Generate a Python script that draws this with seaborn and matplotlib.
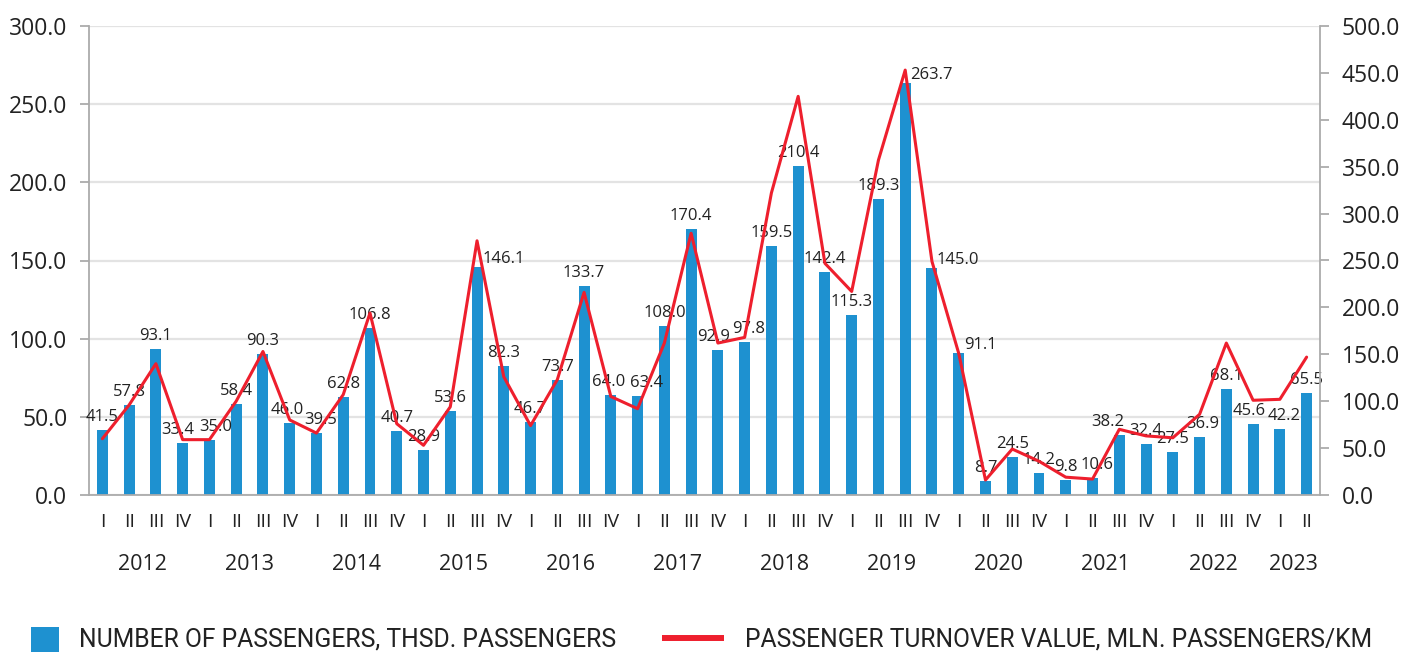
import matplotlib
matplotlib.use("Agg")
import matplotlib.pyplot as plt
from matplotlib.patches import Rectangle
from matplotlib.lines import Line2D
import seaborn as sns
import pandas as pd
import numpy as np

# ---------------- data ----------------
years = ["2012", "2013", "2014", "2015", "2016", "2017", "2018", "2019",
         "2020", "2021", "2022", "2023"]
quarters_per_year = [4, 4, 4, 4, 4, 4, 4, 4, 4, 4, 4, 2]
quarter_names = ["I", "II", "III", "IV"]

passengers = [41.5, 57.8, 93.1, 33.4,
              35.0, 58.4, 90.3, 46.0,
              39.5, 62.8, 106.8, 40.7,
              28.9, 53.6, 146.1, 82.3,
              46.7, 73.7, 133.7, 64.0,
              63.4, 108.0, 170.4, 92.9,
              97.8, 159.5, 210.4, 142.4,
              115.3, 189.3, 263.7, 145.0,
              91.1, 8.7, 24.5, 14.2,
              9.8, 10.6, 38.2, 32.4,
              27.5, 36.9, 68.1, 45.6,
              42.2, 65.5]

turnover = [60, 96, 140, 59,
            59, 100, 153, 80,
            66, 107, 194, 76,
            53, 94, 271, 126,
            74, 123, 216, 105,
            92, 162, 279, 162,
            168, 322, 425, 247,
            217, 357, 453, 249,
            151, 16, 49, 36,
            19, 17, 70, 63,
            61, 86, 162, 101,
            102, 147]

legend_labels = ["NUMBER OF PASSENGERS, THSD. PASSENGERS",
                 "PASSENGER TURNOVER VALUE, MLN. PASSENGERS/KM"]

# ---------------- styling ----------------
W, H = 1420, 652
BLUE = "#1E91D0"
RED = "#EE1F2D"
GRAY = "#ABABAB"
GRID = "#E3E3E3"
TXT = "#222222"
right_shift_labels = {14, 30, 31, 32}
label_nudge_px = {3: -5, 4: 6, 7: -2, 8: 4, 19: -2, 20: 9, 23: -4, 24: 4,
                  37: 4, 38: -12, 41: 3, 43: -4, 44: 4}

sns.set_theme(style="white")
plt.rcParams["font.family"] = ["Open Sans", "DejaVu Sans"]

qlabels = []
for y, n in zip(years, quarters_per_year):
    qlabels += quarter_names[:n]
keys = [f"{y}-{q}" for y, n in zip(years, quarters_per_year) for q in quarter_names[:n]]
df = pd.DataFrame({"key": keys, "passengers": passengers, "turnover": turnover})
n = len(df)

fig = plt.figure(figsize=(W / 100, H / 100), dpi=100)
ax = fig.add_axes([89 / W, 1 - 495 / H, (1320 - 89) / W, (495 - 26) / H])

sns.barplot(data=df, x="key", y="passengers", order=keys, color=BLUE,
            width=0.41, saturation=1, ax=ax, zorder=2)
for p in ax.patches:
    p.set_edgecolor("none")

ax.set_ylim(0, 300)
ax.set_xlim(-0.5, n - 0.5)
ax.set_yticks(np.arange(0, 301, 50))
ax.set_yticklabels([f"{v:.1f}" for v in np.arange(0, 301, 50)])
ax.yaxis.grid(True, color=GRID, lw=1.6, zorder=0)
ax.set_axisbelow(True)
ax.set_xlabel("")
ax.set_ylabel("")

# x ticks: separators (major) and quarter labels (minor)
bounds = [-0.5]
acc = -0.5
for q in quarters_per_year:
    acc += q
    bounds.append(acc)
ax.set_xticks(bounds)
ax.set_xticklabels([""] * len(bounds))
ax.set_xticks(np.arange(n), minor=True)
ax.set_xticklabels(qlabels, minor=True)
ax.tick_params(axis="x", which="major", length=29, width=1.3, color=GRAY)
ax.tick_params(axis="x", which="minor", length=0, pad=13, labelsize=14, labelcolor=TXT)
ax.tick_params(axis="y", which="major", length=6.5, width=1.3, color=GRAY,
               pad=9, labelsize=16.5, labelcolor=TXT, left=True)

for s in ["top", "right"]:
    ax.spines[s].set_visible(False)
for s in ["left", "bottom"]:
    ax.spines[s].set_color(GRAY)
    ax.spines[s].set_linewidth(1.3)

# year labels
start = 0
for y, q in zip(years, quarters_per_year):
    ax.annotate(y, xy=(start + (q - 1) / 2, 0), xycoords=ax.get_xaxis_transform(),
                xytext=(0, -70), textcoords="offset pixels",
                ha="center", va="center", fontsize=15.5, color=TXT)
    start += q

# data labels
for i, v in enumerate(passengers):
    if i in right_shift_labels:
        ax.annotate(f"{v:.1f}", xy=(i, v), xytext=(5, 0), textcoords="offset pixels",
                    ha="left", va="bottom", fontsize=12, color=TXT, zorder=3)
    else:
        ax.annotate(f"{v:.1f}", xy=(i, v), xytext=(label_nudge_px.get(i, 0), 5),
                    textcoords="offset pixels",
                    ha="center", va="bottom", fontsize=12, color=TXT, zorder=3)

# secondary axis with the line
ax2 = ax.twinx()
sns.lineplot(x=np.arange(n), y=turnover, color=RED, lw=2.2, ax=ax2, zorder=4)
ax2.set_ylim(0, 500)
ax2.set_xlim(-0.5, n - 0.5)
ax2.set_yticks(np.arange(0, 501, 50))
ax2.set_yticklabels([f"{v:.1f}" for v in np.arange(0, 501, 50)])
ax2.tick_params(axis="y", which="major", length=6.5, width=1.3, color=GRAY,
                pad=9, labelsize=16.5, labelcolor=TXT, right=True)
for s in ["top", "left", "bottom"]:
    ax2.spines[s].set_visible(False)
ax2.spines["right"].set_color(GRAY)
ax2.spines["right"].set_linewidth(1.3)
ax2.set_ylabel("")
ax2.grid(False)

# legend (drawn manually in figure pixels)
fig.add_artist(Rectangle((31 / W, 1 - 655 / H), 28 / W, 28 / H,
                         transform=fig.transFigure, color=BLUE, lw=0))
fig.add_artist(Line2D([662 / W, 724 / W], [1 - 638 / H] * 2, transform=fig.transFigure,
                      color=RED, lw=4.3, solid_capstyle="butt"))
leg_specs = [(79, 538), (745, 628)]
renderer = fig.canvas.get_renderer()
for (x0, target_w), lab in zip(leg_specs, legend_labels):
    t = fig.text(x0 / W, 1 - 639 / H, lab, ha="left", va="center",
                 fontsize=20, color=TXT, family=["Roboto", "DejaVu Sans"])
    wpx = t.get_window_extent(renderer=renderer).width
    t.set_fontsize(20 * target_w / wpx)

fig.savefig("out.png", dpi=100)
